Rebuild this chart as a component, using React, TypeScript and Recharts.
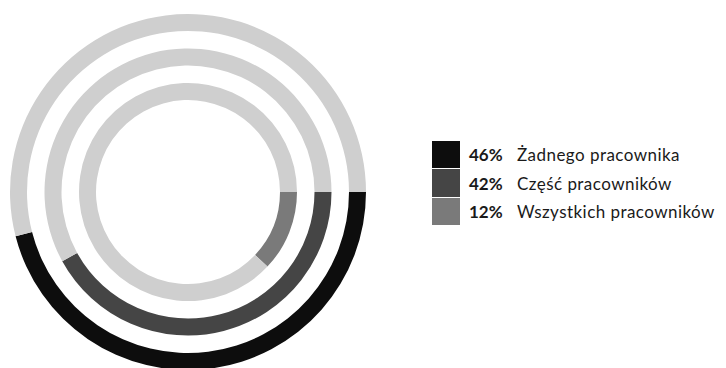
import React from "react";
import { PieChart, Pie, Cell, Legend } from "recharts";

const labels = ["Żadnego pracownika", "Część pracowników", "Wszystkich pracowników"];
const shares = [46, 42, 12];
const colors = ["#0d0d0d", "#454545", "#7a7a7a"];
const trackColor = "#cfcfcf";

// one ring per category, outermost first
const rings = [
  { inner: 161, outer: 178 },
  { inner: 126.5, outer: 143.5 },
  { inner: 92, outer: 109 },
];

const LegendBox = () => (
  <div
    style={{
      fontFamily: "Lato, 'Open Sans', sans-serif",
      fontSize: 17,
      letterSpacing: 0.45,
      color: "#1a1a1a",
      whiteSpace: "nowrap",
    }}
  >
    {labels.map((label, i) => (
      <div key={label} style={{ display: "flex", alignItems: "center", height: 28.7 }}>
        <div style={{ width: 28, height: 27.5, background: colors[i], marginRight: 9 }} />
        <span style={{ fontWeight: 700, width: 48, letterSpacing: 0 }}>{shares[i]}%</span>
        <span>{label}</span>
      </div>
    ))}
  </div>
);

const App: React.FC = () => {
  return (
    <PieChart width={718} height={360} margin={{ top: 0, right: 0, bottom: 0, left: 0 }}>
      {shares.map((v, i) => (
        <Pie
          key={labels[i]}
          data={[
            { name: labels[i], value: v },
            { name: "rest", value: 100 - v },
          ]}
          dataKey="value"
          cx={180}
          cy={184}
          innerRadius={rings[i].inner}
          outerRadius={rings[i].outer}
          startAngle={0}
          endAngle={-360}
          stroke="none"
          isAnimationActive={false}
        >
          <Cell fill={colors[i]} />
          <Cell fill={trackColor} />
        </Pie>
      ))}
      <Legend
        content={<LegendBox />}
        wrapperStyle={{ left: 424, top: 132, width: 294 }}
      />
    </PieChart>
  );
};

export default App;
